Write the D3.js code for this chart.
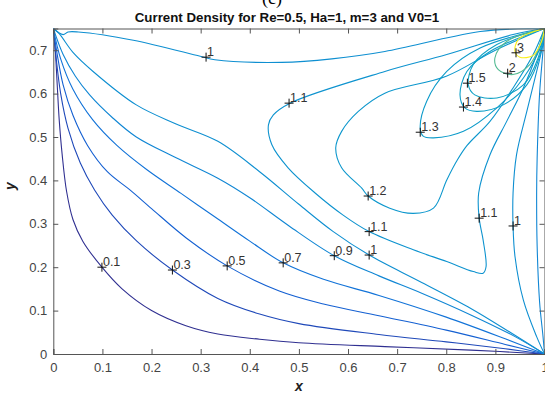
<!DOCTYPE html>
<html lang="en">
<head>
<meta charset="UTF-8">
<title>Current Density</title>
<script src="https://d3js.org/d3.v7.min.js"></script>
<style>
  body { margin: 0; background: #fff; }
  svg text { font-family: "Liberation Sans", Arial, sans-serif; }
  .tick text { fill: #444; font-size: 13px; }
  .domain, .tick line { stroke: #555; }
</style>
</head>
<body>
<div id="chart"></div>
<script>
// contour levels and colour range
const levels = [0.1, 0.3, 0.5, 0.7, 0.9, 1, 1.1, 1.2, 1.3, 1.4, 1.5, 2, 3];
const xTicks = [0, 0.1, 0.2, 0.3, 0.4, 0.5, 0.6, 0.7, 0.8, 0.9, 1];
const yTicks = [0, 0.1, 0.2, 0.3, 0.4, 0.5, 0.6, 0.7];

// contour lines, [x, y]
const c01 = [[0,0.75],[0.004,0.7],[0.008,0.62],[0.012,0.54],[0.018,0.46],[0.027,0.375],[0.04,0.31],[0.06,0.26],[0.099,0.2],[0.14,0.15],[0.2,0.1],[0.27,0.065],[0.335,0.046],[0.42,0.034],[0.5,0.026],[0.675,0.017],[0.85,0.009],[1,0]];
const c03 = [[0,0.75],[0.006,0.68],[0.015,0.6],[0.03,0.52],[0.055,0.44],[0.084,0.378],[0.12,0.32],[0.17,0.26],[0.2425,0.1935],[0.335,0.128],[0.42,0.092],[0.5,0.07],[0.663,0.045],[0.8,0.028],[0.92,0.012],[1,0]];
const c05 = [[0,0.75],[0.008,0.69],[0.02,0.62],[0.04,0.55],[0.07,0.48],[0.11,0.42],[0.156,0.378],[0.2,0.335],[0.27,0.268],[0.354,0.203],[0.46,0.145],[0.55,0.115],[0.663,0.088],[0.8,0.055],[0.92,0.022],[1,0]];
const c07 = [[0,0.75],[0.015,0.68],[0.04,0.61],[0.08,0.54],[0.13,0.48],[0.19,0.425],[0.26,0.37],[0.33,0.315],[0.4,0.26],[0.468,0.21],[0.55,0.172],[0.663,0.135],[0.8,0.085],[0.92,0.035],[1,0]];
const c09 = [[0,0.75],[0.02,0.69],[0.045,0.64],[0.074,0.597],[0.12,0.545],[0.169,0.5],[0.25,0.452],[0.335,0.405],[0.4,0.36],[0.48,0.295],[0.572,0.2265],[0.663,0.18],[0.75,0.14],[0.85,0.09],[0.94,0.04],[1,0]];
const c09r = [[1,0.75],[0.997,0.7],[0.99,0.6],[0.985,0.45],[0.984,0.37],[0.985,0.25],[0.99,0.12],[0.997,0.04],[1,0]];
const c10a = [[0,0.75],[0.02,0.736],[0.03,0.742],[0.051,0.742],[0.163,0.723],[0.299,0.686],[0.329,0.678],[0.465,0.672],[0.567,0.68],[0.675,0.697],[0.8,0.728],[0.869,0.743],[0.936,0.749],[1,0.75]];
const c10b = [[0,0.75],[0.012,0.738],[0.04,0.695],[0.081,0.651],[0.169,0.574],[0.25,0.53],[0.335,0.49],[0.42,0.42],[0.5,0.345],[0.57,0.282],[0.643,0.228],[0.75,0.165],[0.85,0.105],[0.93,0.05],[1,0]];
const c10c = [[1,0.75],[0.998,0.72],[0.984,0.651],[0.964,0.559],[0.943,0.459],[0.936,0.371],[0.936,0.295],[0.94,0.224],[0.957,0.124],[0.984,0.04],[1,0]];
const c11 = [[1,0.75],[0.936,0.736],[0.801,0.69],[0.675,0.651],[0.482,0.578],[0.448,0.551],[0.438,0.528],[0.445,0.482],[0.478,0.429],[0.533,0.371],[0.59,0.32],[0.643,0.282],[0.733,0.24],[0.801,0.213],[0.855,0.19],[0.875,0.186],[0.881,0.201],[0.875,0.263],[0.867,0.313],[0.866,0.371],[0.889,0.459],[0.923,0.536],[0.957,0.613],[0.984,0.69],[1,0.75]];
const c12 = [[1,0.75],[0.9,0.7],[0.8,0.64],[0.675,0.601],[0.621,0.559],[0.587,0.513],[0.575,0.475],[0.587,0.429],[0.628,0.382],[0.641,0.364],[0.685,0.336],[0.733,0.324],[0.774,0.336],[0.801,0.401],[0.821,0.444],[0.842,0.48],[0.889,0.536],[0.936,0.613],[0.977,0.69],[1,0.75]];
const c13 = [[1,0.75],[0.869,0.705],[0.801,0.651],[0.76,0.582],[0.747,0.521],[0.753,0.502],[0.774,0.498],[0.835,0.513],[0.903,0.567],[0.957,0.636],[0.991,0.705],[1,0.75]];
const c14 = [[1,0.75],[0.889,0.697],[0.842,0.651],[0.828,0.597],[0.838,0.567],[0.862,0.559],[0.916,0.574],[0.964,0.62],[0.991,0.69],[1,0.75]];
const c15 = [[1,0.75],[0.903,0.713],[0.855,0.667],[0.845,0.62],[0.858,0.597],[0.903,0.59],[0.957,0.62],[0.987,0.682],[1,0.75]];
const c20 = [[1,0.75],[0.923,0.72],[0.899,0.682],[0.906,0.655],[0.936,0.644],[0.97,0.667],[0.991,0.713],[1,0.75]];
const c30 = [[1,0.75],[0.947,0.725],[0.94,0.697],[0.95,0.684],[0.977,0.688],[0.994,0.72],[1,0.75]];

const lines = [
  {level: 0.1, pts: c01}, {level: 0.3, pts: c03}, {level: 0.5, pts: c05},
  {level: 0.7, pts: c07}, {level: 0.9, pts: c09}, {level: 0.9, pts: c09r},
  {level: 1, pts: c10a}, {level: 1, pts: c10b}, {level: 1, pts: c10c},
  {level: 1.1, pts: c11}, {level: 1.2, pts: c12}, {level: 1.3, pts: c13},
  {level: 1.4, pts: c14}, {level: 1.5, pts: c15}, {level: 2, pts: c20}, {level: 3, pts: c30}
];

// inline labels: position of the "+" and the text
const labelText = ["0.1","0.3","0.5","0.7","0.9","1","1.1","1.2","1.1","1","1.3","1.4","1.5","2","3","1.1","1"];
const labelX = [0.099,0.2425,0.354,0.468,0.572,0.643,0.643,0.641,0.48,0.311,0.747,0.835,0.843,0.925,0.942,0.867,0.936];
const labelY = [0.2,0.1935,0.203,0.21,0.2265,0.228,0.282,0.364,0.578,0.684,0.511,0.569,0.624,0.647,0.694,0.313,0.295];

const W = 545, H = 396;
const margin = {top: 28.5, right: 0.5, bottom: 42, left: 53.3};
const iw = W - margin.left - margin.right, ih = H - margin.top - margin.bottom;

const svg = d3.select("#chart").append("svg")
  .attr("width", W).attr("height", H);

const x = d3.scaleLinear().domain([0, 1]).range([0, iw]);
const y = d3.scaleLinear().domain([0, 0.75]).range([ih, 0]);

// parula-like colour map, stretched to match the figure's line colours
const parula = d3.interpolateRgbBasis(["#352a87","#0f5cdd","#1481d6","#06a4ca","#2eb7a4","#87bf77","#d1bb59","#fec832","#f9fb0e"]);
const tOf = d3.scaleLinear().domain([0.1, 1, 1.5, 2, 3]).range([0.015, 0.3, 0.38, 0.55, 0.97]);
const color = d => parula(tOf(d));

svg.append("text").attr("x", 272).attr("y", 4)
  .attr("text-anchor", "middle").style("font-family", "'Liberation Serif', serif")
  .style("font-size", "18px").text("(c)");
svg.append("text").attr("x", 287).attr("y", 22)
  .attr("text-anchor", "middle").style("font-size", "13.3px").style("font-weight", "bold")
  .attr("fill", "#111").text("Current Density for Re=0.5, Ha=1, m=3 and V0=1");

const g = svg.append("g").attr("transform", `translate(${margin.left},${margin.top})`);

g.append("clipPath").attr("id", "clip").append("rect")
  .attr("width", iw).attr("height", ih);

const line = d3.line().x(d => x(d[0])).y(d => y(d[1])).curve(d3.curveCatmullRom.alpha(0.5));

g.append("g").attr("clip-path", "url(#clip)")
  .selectAll("path").data(lines).enter().append("path")
  .attr("d", d => line(d.pts))
  .attr("fill", "none")
  .attr("stroke", d => color(d.level))
  .attr("stroke-width", 1.1);

// axes with inward ticks on all four sides
g.append("g").attr("transform", `translate(0,${ih})`)
  .call(d3.axisBottom(x).tickValues(xTicks).tickSize(-5).tickPadding(9).tickFormat(d3.format("")));
g.append("g")
  .call(d3.axisLeft(y).tickValues(yTicks).tickSize(-5).tickPadding(6).tickFormat(d3.format("")));
g.append("g")
  .call(d3.axisTop(x).tickValues(xTicks).tickSize(-5).tickFormat(""));
g.append("g").attr("transform", `translate(${iw},0)`)
  .call(d3.axisRight(y).tickValues(yTicks).tickSize(-5).tickFormat(""));

// "+" markers and labels
const labels = g.selectAll(".lab").data(labelText).enter().append("g")
  .attr("class", "lab")
  .attr("transform", (d, i) => `translate(${x(labelX[i])},${y(labelY[i])})`);
labels.append("path").attr("d", "M-4.5,0H4.5M0,-4.5V4.5").attr("stroke", "#111").attr("stroke-width", 1);
labels.append("text").attr("x", 1).attr("y", -1)
  .style("font-size", "12.5px").attr("fill", "#333").text(d => d);

svg.append("text").attr("x", 299).attr("y", 391).attr("text-anchor", "middle")
  .style("font-size", "14px").style("font-weight", "bold").style("font-style", "italic")
  .attr("fill", "#222").text("x");
svg.append("text").attr("transform", "translate(15,186) rotate(-90)").attr("text-anchor", "middle")
  .style("font-size", "14px").style("font-weight", "bold").style("font-style", "italic")
  .attr("fill", "#222").text("y");
</script>
</body>
</html>
